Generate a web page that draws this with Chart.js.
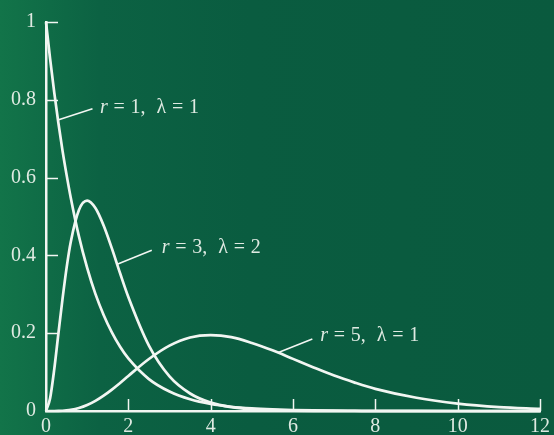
<!DOCTYPE html>
<html>
<head>
<meta charset="utf-8">
<script src="https://cdn.jsdelivr.net/npm/chart.js@4/dist/chart.umd.min.js"></script>
<style>
  html, body { margin: 0; padding: 0; }
  body {
    width: 554px; height: 435px; overflow: hidden;
    background: linear-gradient(90deg, #127449 0%, #0c6243 18%, #0a5c40 45%, #0a5a3e 100%);
  }
  #wrap { position: relative; width: 554px; height: 435px; }
</style>
</head>
<body>
<div id="wrap"><canvas id="myChart"></canvas></div>
<script>
var xs = [0, 0.1, 0.2, 0.3, 0.4, 0.5, 0.6, 0.8, 1.0, 1.2, 1.4, 1.6, 1.8, 2.0, 2.5, 3, 3.5, 4, 4.5, 5, 5.5, 6, 6.5, 7, 7.5, 8, 9, 10, 11, 12];

// r = 1, lambda = 1
var curve1 = [1, 0.905, 0.819, 0.741, 0.670, 0.607, 0.549, 0.449, 0.368, 0.301, 0.247, 0.202, 0.165, 0.135, 0.082, 0.050, 0.030, 0.018, 0.011, 0.0067, 0.0041, 0.0025, 0.0015, 0.0009, 0.0006, 0.0003, 0.0001, 0, 0, 0];
// r = 3, lambda = 2
var curve3 = [0, 0.033, 0.107, 0.198, 0.287, 0.368, 0.434, 0.517, 0.541, 0.522, 0.477, 0.418, 0.354, 0.293, 0.168, 0.089, 0.045, 0.0215, 0.010, 0.0045, 0.002, 0.0009, 0.0004, 0.0002, 0.0001, 0, 0, 0, 0, 0];
// r = 5, lambda = 1
var curve5 = [0, 0, 0.00005, 0.00025, 0.0007, 0.0016, 0.003, 0.0077, 0.0153, 0.026, 0.0395, 0.0551, 0.0722, 0.0902, 0.1336, 0.168, 0.189, 0.195, 0.190, 0.175, 0.156, 0.134, 0.112, 0.091, 0.073, 0.057, 0.034, 0.019, 0.010, 0.0053];

var xTicks = [0, 2, 4, 6, 8, 10, 12];
var yTicks = [0, 0.2, 0.4, 0.6, 0.8, 1];
var yTickLabels = ['0', '0.2', '0.4', '0.6', '0.8', '1'];

// curve labels
var labelR = [1, 3, 5];
var labelLambda = [1, 2, 1];

function points(ys) {
    return xs.map(function (x, i) { return { x: x, y: ys[i] }; });
}

var white = '#f2f6f2';
var textColor = '#dfeae2';
var serif = '"Liberation Serif", "DejaVu Serif", serif';

var labelPlugin = {
    id: 'curveLabels',
    afterDatasetsDraw: function (chart) {
        var ctx = chart.ctx;
        var sx = chart.scales.x, sy = chart.scales.y;
        // leader lines (data coords)
        var leaders = [
            [[0.29, 0.748], [1.13, 0.777]],
            [[1.73, 0.377], [2.57, 0.413]],
            [[5.63, 0.150], [6.47, 0.185]]
        ];
        var textAt = [[1.31, 0.78], [2.81, 0.42], [6.66, 0.193]];
        ctx.save();
        ctx.strokeStyle = white;
        ctx.lineWidth = 1.6;
        leaders.forEach(function (l) {
            ctx.beginPath();
            ctx.moveTo(sx.getPixelForValue(l[0][0]), sy.getPixelForValue(l[0][1]));
            ctx.lineTo(sx.getPixelForValue(l[1][0]), sy.getPixelForValue(l[1][1]));
            ctx.stroke();
        });
        ctx.fillStyle = textColor;
        ctx.textBaseline = 'middle';
        textAt.forEach(function (t, i) {
            var px = sx.getPixelForValue(t[0]);
            var py = sy.getPixelForValue(t[1]);
            var parts = [
                ['italic', 'r'], ['', ' = '], ['', labelR[i] + ','], ['', '  \u03bb'], ['', ' = '], ['', String(labelLambda[i])]
            ];
            parts.forEach(function (p) {
                ctx.font = (p[0] ? p[0] + ' ' : '') + '20px ' + serif;
                ctx.fillText(p[1], px, py);
                px += ctx.measureText(p[1]).width + 0.8;
            });
        });
        ctx.restore();
    }
};

// inward tick marks on both axes
var tickPlugin = {
    id: 'inwardTicks',
    afterDraw: function (chart) {
        var ctx = chart.ctx;
        var sx = chart.scales.x, sy = chart.scales.y;
        var a = chart.chartArea;
        ctx.save();
        ctx.strokeStyle = white;
        ctx.lineWidth = 1.5;
        xTicks.forEach(function (v) {
            if (v === 0) return;
            var px = Math.round(sx.getPixelForValue(v)) + 0.5;
            ctx.beginPath();
            ctx.moveTo(px, a.bottom);
            ctx.lineTo(px, a.bottom - 12);
            ctx.stroke();
        });
        yTicks.forEach(function (v) {
            if (v === 0) return;
            var py = Math.round(sy.getPixelForValue(v)) + 0.5;
            ctx.beginPath();
            ctx.moveTo(a.left, py);
            ctx.lineTo(a.left + 12, py);
            ctx.stroke();
        });
        ctx.restore();
    }
};

var ctx = document.getElementById('myChart').getContext('2d');

function lineSet(ys) {
    return {
        data: points(ys),
        borderColor: white,
        borderWidth: 2.7,
        pointRadius: 0,
        fill: false,
        cubicInterpolationMode: 'monotone'
    };
}

new Chart(ctx, {
    type: 'line',
    data: {
        datasets: [lineSet(curve1), lineSet(curve3), lineSet(curve5)]
    },
    options: {
        responsive: true,
        maintainAspectRatio: false,
        animation: false,
        clip: false,
        layout: { padding: { top: 16, right: 9, left: 0, bottom: 0 } },
        plugins: {
            legend: { display: false },
            tooltip: { enabled: false }
        },
        scales: {
            x: {
                type: 'linear',
                min: 0,
                max: 12,
                afterFit: function (s) { s.height = 24; },
                afterBuildTicks: function (s) { s.ticks = xTicks.map(function (v) { return { value: v }; }); },
                grid: { display: false, drawTicks: false },
                border: { display: true, color: white, width: 2.5 },
                ticks: { color: textColor, padding: 4, font: { family: serif, size: 20 } }
            },
            y: {
                min: 0,
                max: 1,
                afterFit: function (s) { s.width = 46; },
                afterBuildTicks: function (s) { s.ticks = yTicks.map(function (v) { return { value: v }; }); },
                grid: { display: false, drawTicks: false },
                border: { display: true, color: white, width: 2.5 },
                ticks: {
                    color: textColor,
                    padding: 10,
                    font: { family: serif, size: 20 },
                    callback: function (v) { return yTickLabels[yTicks.indexOf(v)]; }
                }
            }
        }
    },
    plugins: [labelPlugin, tickPlugin]
});
</script>
</body>
</html>
